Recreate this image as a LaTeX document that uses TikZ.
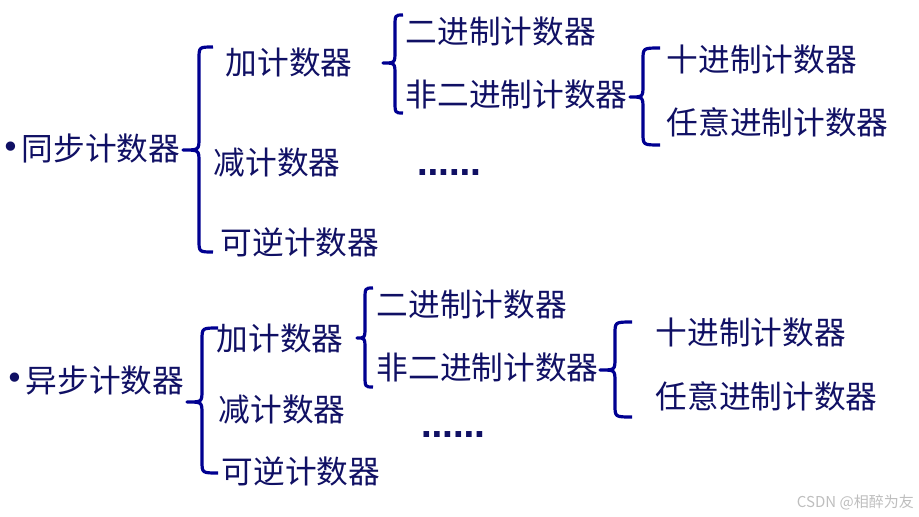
\documentclass[tikz,border=0pt]{standalone}
\usepackage{fontspec}
\setmainfont{Noto Sans CJK SC}
\newfontfamily\dotfont{DejaVu Sans}
\definecolor{inkblue}{RGB}{16,16,100}
\definecolor{braceblue}{RGB}{0,0,145}
\definecolor{markgray}{RGB}{190,190,190}
\tikzset{
  lbl/.style={anchor=west, inner sep=0pt, text=inkblue, font=\fontsize{31.7}{38}\selectfont},
  dots/.style={anchor=center, inner sep=0pt, text=inkblue, font=\dotfont\bfseries\fontsize{31.7}{38}\selectfont},
  bullet/.style={anchor=center, inner sep=0pt, text=inkblue, font=\dotfont\fontsize{32}{36}\selectfont},
  bline/.style={draw=braceblue, line width=3.2pt, line join=round},
}
% brace: end x, line x, tip x, top y, tip y, bottom y
\newcommand{\drawbrace}[6]{%
  \draw[bline] (#1,#4) .. controls (#2,#4) .. (#2,{#4+12}) -- (#2,{#5-12})
    .. controls (#2,#5) .. (#3,#5) .. controls (#2,#5) .. (#2,{#5+12})
    -- (#2,{#6-12}) .. controls (#2,#6) .. (#1,#6);}

\begin{document}
\begin{tikzpicture}[x=1pt,y=-1pt]
    \useasboundingbox (0,0) rectangle (919,517);

    % Contatori sincroni
    \node[bullet] (syncDot) at (11,150) {•};
    \node[lbl] (sync) at (21.5,148) {同步计数器};
    \drawbrace{213}{199}{183}{47}{150}{252}
    \node[lbl] (syncUp) at (225.5,62) {加计数器};
    \node[lbl] (syncDown) at (213.5,162) {减计数器};
    \node[lbl] (syncRev) at (220.5,242) {可逆计数器};

    \drawbrace{403}{395}{383}{15}{63}{113}
    \node[lbl] (syncBin) at (405.5,31) {二进制计数器};
    \node[lbl] (syncNonbin) at (405.5,94) {非二进制计数器};
    \node[dots] (syncMore) at (449,173) {……};

    \drawbrace{660}{643}{630}{48}{97}{145}
    \node[lbl] (syncDec) at (666.5,59) {十进制计数器};
    \node[lbl] (syncAny) at (666.5,122) {任意进制计数器};

    % Contatori asincroni
    \node[bullet] (asyncDot) at (15,381) {•};
    \node[lbl] (async) at (25.5,380) {异步计数器};
    \drawbrace{218}{202}{187}{328}{402}{473}
    \node[lbl] (asyncUp) at (216.5,338) {加计数器};
    \node[lbl] (asyncDown) at (218.5,409) {减计数器};
    \node[lbl] (asyncRev) at (221.5,471) {可逆计数器};

    \drawbrace{373}{365}{357}{288}{338}{387}
    \node[lbl] (asyncBin) at (376.5,304) {二进制计数器};
    \node[lbl] (asyncNonbin) at (376.5,367) {非二进制计数器};
    \node[dots] (asyncMore) at (453,434) {……};

    \drawbrace{632}{615}{600}{322}{370}{417}
    \node[lbl] (asyncDec) at (655.5,332) {十进制计数器};
    \node[lbl] (asyncAny) at (655.5,396) {任意进制计数器};

    % Filigrana
    \node[anchor=east, inner sep=0pt, text=markgray, font=\fontsize{15}{18}\selectfont] (mark) at (914,502) {CSDN @相醉为友};
\end{tikzpicture}
\end{document}
